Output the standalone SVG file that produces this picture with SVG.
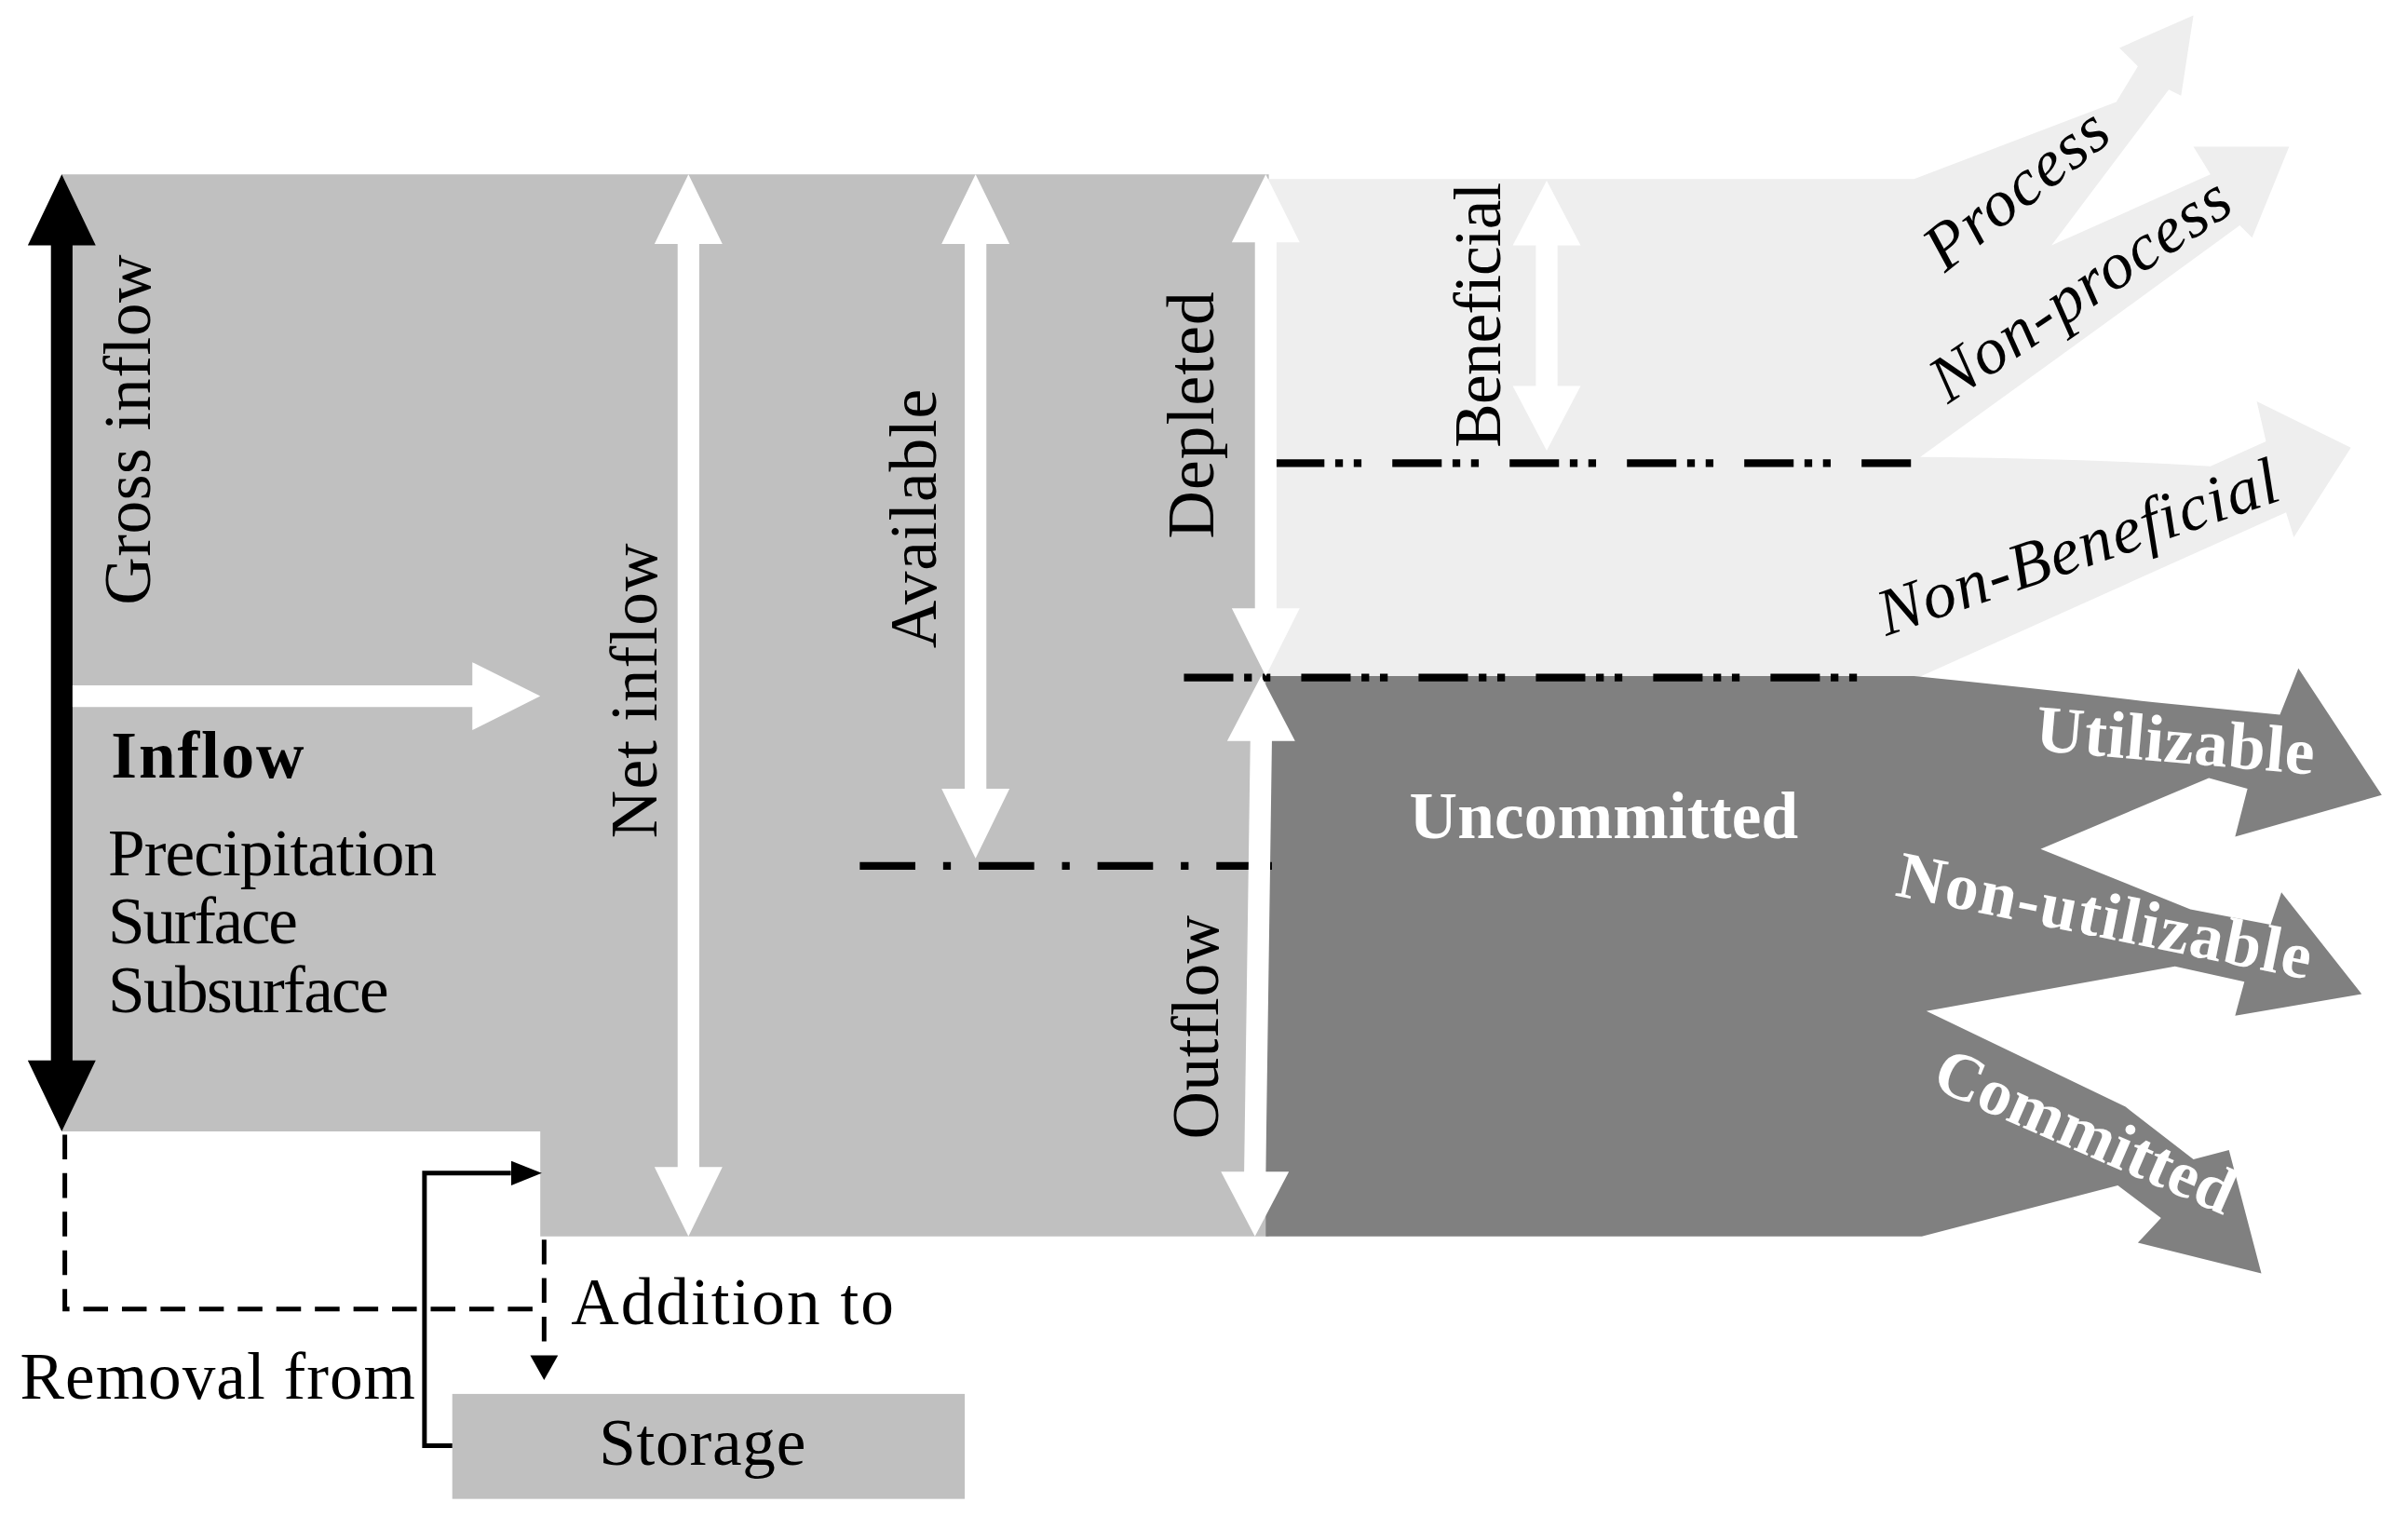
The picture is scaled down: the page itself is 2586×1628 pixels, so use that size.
<svg xmlns="http://www.w3.org/2000/svg" width="2586" height="1628" viewBox="0 0 2586 1628">
<style>
.lbl{font-family:"Liberation Serif","DejaVu Serif",serif;font-size:43px;fill:#000}
.it{font-style:italic}
.bw{font-weight:bold;fill:#fff}
.b{font-weight:bold}
.wa{fill:#fff}
.dd{fill:none;stroke:#000;stroke-width:5;stroke-dasharray:32 7 5 7 5 20}
.dm{fill:none;stroke:#000;stroke-width:5;stroke-dasharray:36 18 5 18}
.dash{fill:none;stroke:#000;stroke-width:3;stroke-dasharray:16 9}
.solid{fill:none;stroke:#000;stroke-width:3}
</style>
<defs>
<marker id="ah" markerUnits="userSpaceOnUse" markerWidth="16" markerHeight="18" refX="0" refY="9" orient="auto" viewBox="0 0 16 18">
<path d="M0,0 L16,9 L0,18 Z" fill="#000"/>
</marker>
<marker id="ah2" markerUnits="userSpaceOnUse" markerWidth="20" markerHeight="16" refX="0" refY="8" orient="auto" viewBox="0 0 20 16">
<path d="M0,0 L20,8 L0,16 Z" fill="#000"/>
</marker>
</defs>
<rect width="2586" height="1628" fill="#fff"/>
<g transform="scale(1.6577)">
<g id="gross-region">
<path d="M40,113 H822 V801 H350 V733 H40 Z" fill="#c0c0c0"/>
</g>
<g id="depleted-region">
<path d="M820,116 L1240,116 L1371,66 L1385,43 L1373,31 L1421,10 L1413,62 L1405,58 L1329,159 L1432,113 L1421,95 L1483,95 L1459,154 L1451,146 Q1351,219 1244,296 Q1350,297 1432,302 L1468,286 L1462,260 L1523,290 L1486,348 L1481,332 L1240,440 L820,440 Z" fill="#eeeeee"/>
</g>
<g id="uncommitted-region">
<path d="M820,438 L1240,438 Q1320,446 1396,455 L1477,463 L1489,433 L1543,515 L1448,542 L1456,511 L1431,504 L1322,550 L1419,589 L1471,599 L1478,578 L1530,644 L1448,658 L1454,636 L1409,626 L1248,655 L1377,717 L1421,751 L1444,745 L1465,825 L1385,805 L1400,789 L1372,768 L1245,801 L820,801 Z" fill="#808080"/>
</g>
<g id="storage">
<rect x="293" y="903" width="332" height="68" fill="#c0c0c0"/>
<text class="lbl" x="388" y="949" textLength="134">Storage</text>
</g>
<g id="dividers">
<path class="dd" d="M826,300 H1241"/>
<path class="dd" d="M767,439 H1222"/>
<path class="dm" d="M557,561 H836"/>
</g>
<g id="gross-inflow">
<polygon points="40,113 62,159 47,159 47,687 62,687 40,733 18,687 33,687 33,159 18,159" fill="#000"/>
<text class="lbl" transform="translate(97,392) rotate(-90)" textLength="227">Gross inflow</text>
</g>
<g id="inflow">
<polygon class="wa" points="47,444 306,444 306,429 350,451 306,473 306,458 47,458"/>
<text class="lbl b" x="72" y="504" textLength="125">Inflow</text>
<text class="lbl" x="70" y="567" textLength="213">Precipitation</text>
<text class="lbl" x="70" y="611" textLength="123">Surface</text>
<text class="lbl" x="70" y="656" textLength="182">Subsurface</text>
</g>
<g id="net-inflow">
<polygon class="wa" points="446,113 468,158 453,158 453,756 468,756 446,801 424,756 439,756 439,158 424,158"/>
<text class="lbl" transform="translate(425,543) rotate(-90)" textLength="191">Net inflow</text>
</g>
<g id="available">
<polygon class="wa" points="632,113 654,158 639,158 639,511 654,511 632,556 610,511 625,511 625,158 610,158"/>
<text class="lbl" transform="translate(606,420) rotate(-90)" textLength="168">Available</text>
</g>
<g id="depleted">
<polygon class="wa" points="820,113 842,157 827,157 827,394 842,394 820,438 798,394 813,394 813,157 798,157"/>
<text class="lbl" transform="translate(786,349) rotate(-90)" textLength="160">Depleted</text>
</g>
<g id="outflow">
<polygon class="wa" points="817,438 839,480 824,480 820,759 835,759 813,801 791,759 806,759 810,480 795,480"/>
<text class="lbl" transform="translate(789,738) rotate(-90)" textLength="145">Outflow</text>
</g>
<g id="beneficial">
<polygon class="wa" points="1002,117 1024,159 1009,159 1009,250 1024,250 1002,292 980,250 995,250 995,159 980,159"/>
<text class="lbl" transform="translate(972,290) rotate(-90)" textLength="172">Beneficial</text>
</g>
<g id="process"><text class="lbl it" transform="translate(1260,177) rotate(-38.5)" textLength="140">Process</text></g>
<g id="non-process"><text class="lbl it" transform="translate(1262,262) rotate(-34)" textLength="225">Non-process</text></g>
<g id="non-beneficial"><text class="lbl it" transform="translate(1222,412) rotate(-19)" textLength="272">Non-Beneficial</text></g>
<g id="uncommitted"><text class="lbl bw" x="913" y="543" textLength="252">Uncommitted</text></g>
<g id="utilizable"><text class="lbl bw" transform="translate(1318,486) rotate(5)" textLength="181">Utilizable</text></g>
<g id="non-utilizable"><text class="lbl bw" transform="translate(1227,580) rotate(11.5)" textLength="273">Non-utilizable</text></g>
<g id="committed"><text class="lbl bw" transform="translate(1250,704) rotate(23.6)" textLength="208">Committed</text></g>
<g id="connectors">
<path class="dash" d="M42,735 V848 H350"/>
<path class="dash" d="M352.5,803 V878" marker-end="url(#ah)"/>
<path class="solid" d="M293,936.5 H275 V760 H331" marker-end="url(#ah2)"/>
<text class="lbl" x="370" y="858" textLength="209">Addition to</text>
<text class="lbl" x="13" y="906" textLength="256">Removal from</text>
</g>
</g>
</svg>
